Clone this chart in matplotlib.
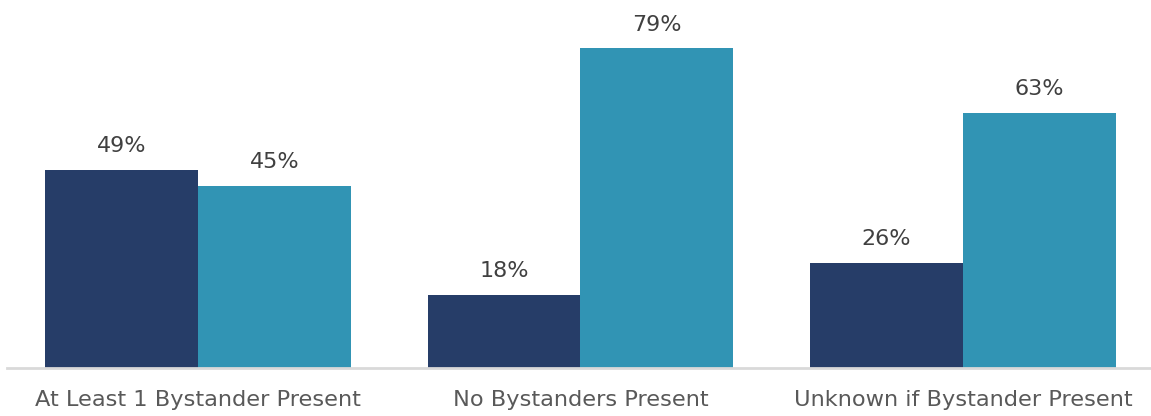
import matplotlib.pyplot as plt
import numpy as np

categories = ["At Least 1 Bystander Present", "No Bystanders Present", "Unknown if Bystander Present"]
series_a = [49, 18, 26]
series_b = [45, 79, 63]

plt.rcParams['font.family'] = ['DejaVu Sans']

fig = plt.figure(figsize=(11.51, 4.16), dpi=100)
ax = fig.add_axes([7 / 1151, 48 / 416, 1147 / 1151, 364 / 416])

x = np.arange(len(categories))
w = 0.4
bars_a = ax.bar(x - w / 2, series_a, w, color="#263D68")
bars_b = ax.bar(x + w / 2, series_b, w, color="#3194B4")

for bars in (bars_a, bars_b):
    for b in bars:
        ax.annotate(f"{b.get_height():.0f}%", (b.get_x() + b.get_width() / 2, b.get_height()),
                    xytext=(0, 10), textcoords="offset points", ha="center", va="bottom",
                    fontsize=16, color="#404040")

ax.set_xlim(-0.5, 2.5)
ax.set_ylim(0, 90)
ax.set_xticks(x)
ax.set_xticklabels(categories, fontsize=16.2, color="#595959")
ax.tick_params(axis="x", length=0, pad=16)
ax.set_yticks([])
for s in ("top", "right", "left"):
    ax.spines[s].set_visible(False)
ax.spines["bottom"].set_color("#D9D9D9")
ax.spines["bottom"].set_linewidth(2)

fig.savefig("out.png", dpi=100)
